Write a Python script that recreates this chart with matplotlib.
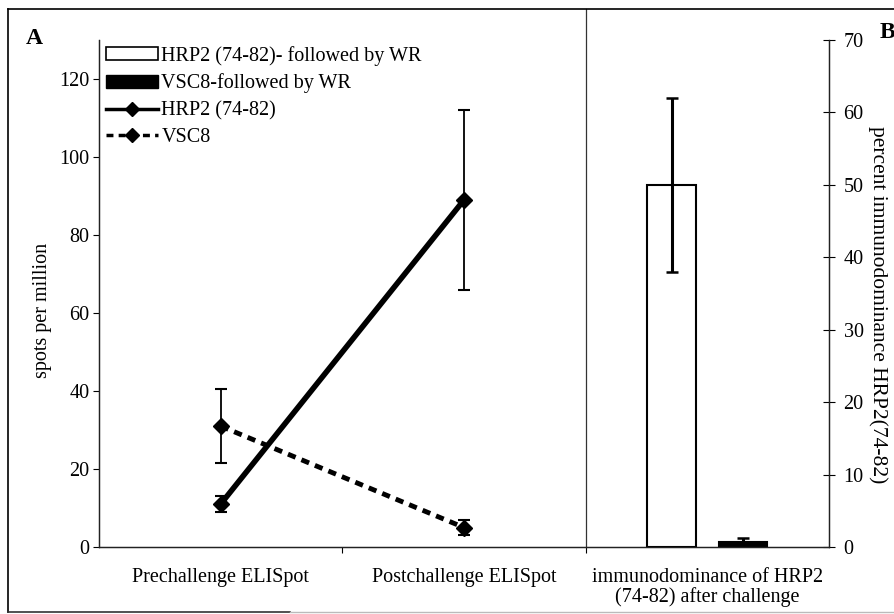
import matplotlib
matplotlib.use("Agg")
import matplotlib.pyplot as plt
from matplotlib.patches import Patch
from matplotlib.lines import Line2D

plt.rcParams['font.family'] = ['Liberation Serif', 'DejaVu Serif']

# data
categories = ["Prechallenge ELISpot", "Postchallenge ELISpot",
              "immunodominance of HRP2\n(74-82) after challenge"]

hrp2_spots = [11, 89]
hrp2_err = [2, 23]
vsc8_spots = [31, 5]
vsc8_err = [9.5, 2]

bar_labels = ["HRP2 (74-82)- followed by WR", "VSC8-followed by WR"]
bar_values = [50, 0.7]
bar_err = [12, 0.5]

FS = 14.5

fig = plt.figure(figsize=(8.94, 6.14), dpi=100)
W, H = 894, 614
ax = fig.add_axes([99 / W, 67 / H, 730 / W, 507 / H])
ax2 = ax.twinx()

# lines on the left axis
xs = [0, 1]
ax.errorbar(xs, hrp2_spots, yerr=hrp2_err, color='black', lw=4, ls='-',
            marker='D', ms=8, ecolor='black', elinewidth=1.3, capsize=4, capthick=1.5,
            zorder=5)
ax.errorbar(xs, vsc8_spots, yerr=vsc8_err, color='black', lw=3.5, ls=(0, (1.7, 1.3)),
            marker='D', ms=8, ecolor='black', elinewidth=1.3, capsize=4, capthick=1.5,
            zorder=5)

# bars on the right axis
bx = [2 - 0.147, 2 + 0.147]
ax2.bar(bx, bar_values, width=0.2, color=['white', 'black'], edgecolor='black', lw=1.5)
ax2.errorbar(bx, bar_values, yerr=bar_err, fmt='none', ecolor='black',
             elinewidth=2.2, capsize=4.5, capthick=1.8)

ax.set_xlim(-0.5, 2.5)
ax.set_ylim(0, 130)
ax2.set_ylim(0, 70)

ax.set_yticks(range(0, 121, 20))
ax2.set_yticks(range(0, 71, 10))
ax.tick_params(axis='y', direction='out', length=4, width=0.8, labelsize=FS, pad=3)
ax2.tick_params(axis='y', direction='inout', length=9, width=0.8, labelsize=FS, pad=6)

ax.set_xticks([0.5, 1.5])
ax.set_xticklabels([])
ax.set_xticks([0, 1, 2], minor=True)
ax.set_xticklabels(categories, minor=True, fontsize=FS, linespacing=1.05)
ax.tick_params(axis='x', which='major', direction='out', length=4, width=0.8)
ax.tick_params(axis='x', which='minor', length=0, pad=15)

for a in (ax, ax2):
    a.spines['top'].set_visible(False)
    for s in ('left', 'right', 'bottom'):
        a.spines[s].set_linewidth(0.9)
        a.spines[s].set_color('#222222')
ax.patch.set_visible(False)

# separator between panel A and B
ax.axvline(1.5, ymin=0, ymax=(H - 9 - 67) / 507, color='#333333', lw=0.9, clip_on=False)

handles = [Patch(facecolor='white', edgecolor='black', lw=1.2),
           Patch(facecolor='black', edgecolor='black'),
           Line2D([], [], color='black', lw=2.5, marker='D', ms=7),
           Line2D([], [], color='black', lw=2.5, ls=(0, (2, 1.5)), marker='D', ms=7)]
labels = bar_labels + ["HRP2 (74-82)", "VSC8"]
fig.legend(handles, labels, loc='upper left', bbox_to_anchor=(106 / W, 1 - 46 / H),
           frameon=False, fontsize=FS, handlelength=2.6, handleheight=0.6,
           handletextpad=0.15, labelspacing=0.38, borderpad=0, borderaxespad=0)

fig.text(43 / W, 1 - 310 / H, "spots per million", rotation=90, ha='center', va='center',
         fontsize=FS)
fig.text(878 / W, 1 - 305 / H, "percent immunodominance HRP2(74-82)", rotation=270,
         ha='center', va='center', fontsize=15.5)
fig.text(26 / W, 1 - 39 / H, "A", fontsize=17, fontweight='bold', ha='left', va='center')
fig.text(880 / W, 1 - 32 / H, "B", fontsize=17, fontweight='bold', ha='left', va='center')

# outer frame
fig.add_artist(Line2D([8 / W, 8 / W], [1 - 9 / H, 1 - 612 / H], color='black', lw=1.2))
fig.add_artist(Line2D([8 / W, 1], [1 - 9 / H, 1 - 9 / H], color='black', lw=1.2))
fig.add_artist(Line2D([8 / W, 290 / W], [1 - 612 / H, 1 - 612 / H], color='#333333', lw=1.2))
fig.add_artist(Line2D([290 / W, 1], [1 - 612 / H, 1 - 612 / H], color='#bbbbbb', lw=1.0))

fig.savefig("out.png", dpi=100)
